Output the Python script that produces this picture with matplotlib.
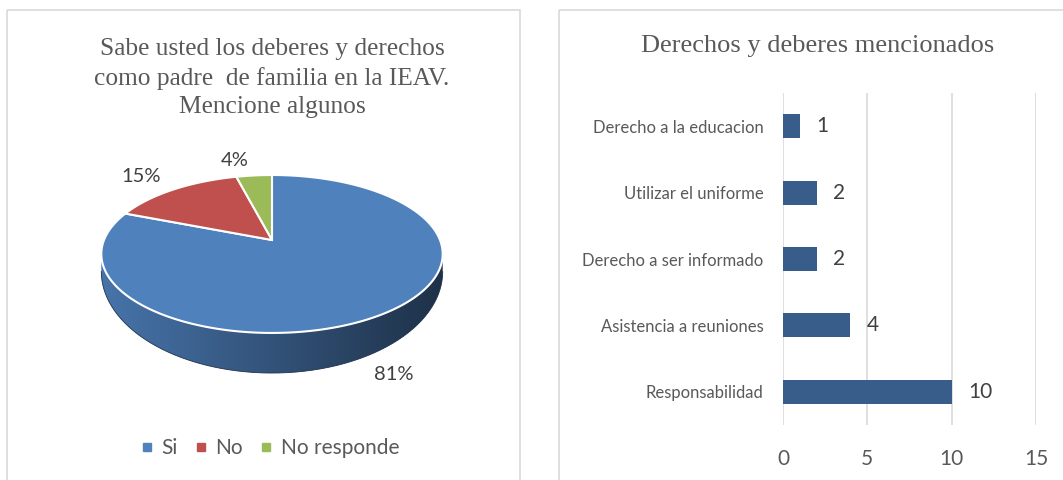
import numpy as np
import matplotlib.pyplot as plt
from matplotlib.patches import Polygon, Rectangle
from matplotlib.lines import Line2D
from matplotlib.colors import LinearSegmentedColormap, to_rgb

# pie data
pie_labels = ['Si', 'No', 'No responde']
pie_values = [81, 15, 4]
pie_colors = ['#4F81BD', '#C0504D', '#9BBB59']

# bar data (bottom to top)
bar_categories = ['Responsabilidad', 'Asistencia a reuniones', 'Derecho a ser informado',
                  'Utilizar el uniforme', 'Derecho a la educacion']
bar_values = [10, 4, 2, 2, 1]
bar_ticks = [0, 5, 10, 15]

W, H = 1063, 480
SANS = ['Lato', 'DejaVu Sans']
SERIF = ['Liberation Serif', 'DejaVu Serif']
GREY = '#595959'

fig = plt.figure(figsize=(W / 100, H / 100), dpi=100)

# background axes in pixel coordinates (borders + 3d pie)
bg = fig.add_axes([0, 0, 1, 1])
bg.set_xlim(0, W)
bg.set_ylim(H, 0)
bg.axis('off')

for x0, x1 in [(7, 520), (559, 1070)]:
    bg.add_patch(Rectangle((x0, 10), x1 - x0, 480, fill=False, ec='#D9D9D9', lw=1.2))

# perspective projection of the pie disc
CX, CY = 272, 240
A, K = 168, -0.177
B_TOP, B_BOT, DEPTH = 76.5, 98.3, 13.6


def project(phi, r=1.0, bottom=False):
    u = r * np.sin(phi)
    v = -r * np.cos(phi)
    d = 1 + K * v
    b = B_BOT if bottom else B_TOP
    y0 = CY + (DEPTH if bottom else 0)
    return CX + A * u / d, y0 + b * v / d


fracs = np.array(pie_values) / sum(pie_values)
starts = 2 * np.pi * np.concatenate([[0], np.cumsum(fracs)[:-1]])
ends = starts + 2 * np.pi * fracs
phi1 = np.arccos(K)
phi2 = 2 * np.pi - phi1

# side walls
for s, e, c in zip(starts, ends, pie_colors):
    a, b = max(s, phi1), min(e, phi2)
    if a >= b:
        continue
    t = np.linspace(a, b, 200)
    xt, yt = project(t)
    xb, yb = project(t[::-1], bottom=True)
    pts = np.column_stack([np.concatenate([xt, xb]), np.concatenate([yt, yb])])
    poly = Polygon(pts, closed=True, fc='none', ec='none')
    bg.add_patch(poly)
    rgb = np.array(to_rgb(c))
    cmap = LinearSegmentedColormap.from_list('side', [rgb * 0.9, rgb * 0.64, rgb * 0.38])
    grad = np.linspace(0, 1, 256).reshape(1, -1)
    im = bg.imshow(grad, cmap=cmap, aspect='auto',
                   extent=(pts[:, 0].min(), pts[:, 0].max(), pts[:, 1].max(), pts[:, 1].min()),
                   zorder=1)
    im.set_clip_path(poly)
    bg.plot(xb, yb, color=tuple(rgb * 0.4), lw=0.6, zorder=1.5)

# top face
for s, e, c in zip(starts, ends, pie_colors):
    t = np.linspace(s, e, 200)
    xt, yt = project(t)
    pts = np.column_stack([np.concatenate([[CX], xt]), np.concatenate([[CY], yt])])
    bg.add_patch(Polygon(pts, closed=True, fc=c, ec='white', lw=1.5, zorder=2))

bg.set_xlim(0, W)
bg.set_ylim(H, 0)

# percentage labels
for s, e, v in zip(starts, ends, pie_values):
    mid = (s + e) / 2
    front = np.cos(mid) < 0
    lx, ly = project(mid, r=1.2, bottom=front)
    bg.text(lx - 16, ly + (3 if front else -4), f'{v}%', ha='center', va='center',
            fontsize=14.5, family=SANS, color='#404040', zorder=3)

# left title
fig.text(272 / W, 1 - 78 / H,
         'Sabe usted los deberes y derechos\ncomo padre  de familia en la IEAV.\nMencione algunos',
         ha='center', va='center', fontsize=18.3, family=SERIF, color=GREY, linespacing=1.38)

# legend
handles = [Line2D([], [], marker='s', ls='', color=c, markersize=6) for c in pie_colors]
fig.legend(handles, pie_labels, loc='center', bbox_to_anchor=(270 / W, 1 - 448 / H),
           ncol=3, frameon=False, handlelength=0.6, handletextpad=0.4, columnspacing=0.8,
           prop={'family': SANS, 'size': 15}, labelcolor=GREY)

# bar chart
ax = fig.add_axes([783 / W, 55 / H, 253 / W, 332 / H])
y = np.arange(len(bar_categories))
ax.barh(y, bar_values, height=0.36, color='#385D8A', zorder=2)
ax.set_xlim(0, 15)
ax.set_ylim(-0.5, len(bar_categories) - 0.5)
ax.set_xticks(bar_ticks)
ax.set_yticks(y)
ax.set_yticklabels(bar_categories, family=SANS, fontsize=12, color=GREY)
ax.set_xticklabels([str(t) for t in bar_ticks], family=SANS, fontsize=15, color=GREY)
ax.tick_params(axis='y', length=0, pad=14)
ax.tick_params(axis='x', length=0, pad=17)
ax.grid(axis='x', color='#D9D9D9', lw=1.2, zorder=0)
for sp in ax.spines.values():
    sp.set_visible(False)
for yi, v in zip(y, bar_values):
    ax.annotate(str(v), (v, yi), xytext=(12, 0), textcoords='offset points',
                ha='left', va='center', fontsize=15, family=SANS, color='#404040')

fig.text(818 / W, 1 - 46 / H, 'Derechos y deberes mencionados', ha='center', va='center',
         fontsize=19, family=SERIF, color=GREY)

fig.savefig('out.png', dpi=100)
